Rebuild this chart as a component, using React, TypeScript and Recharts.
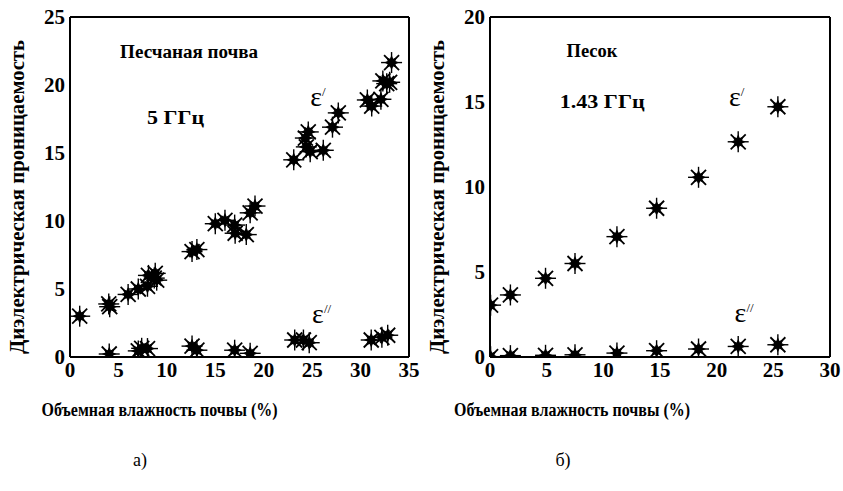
import React from 'react';
import { ScatterChart, Scatter, XAxis, YAxis, ReferenceDot } from 'recharts';

// а) песчаная почва, 5 ГГц
const soilMoisture1 = [1.0, 4.0, 4.1, 6.0, 7.05, 8.0, 8.1, 8.8, 8.95, 8.7, 12.6, 13.1, 15.0, 16.0, 17.0, 17.05, 18.2, 18.6, 19.1, 23.1, 24.3, 24.6, 24.4, 24.8, 26.15, 27.1, 27.7, 30.7, 31.15, 32.1, 32.3, 33.0, 32.7, 33.2];
const soilEps1 = [3.0, 3.9, 3.7, 4.6, 5.0, 5.2, 6.0, 6.15, 5.65, 5.8, 7.75, 7.9, 9.8, 10.05, 9.7, 9.1, 9.0, 10.6, 11.1, 14.5, 16.1, 16.55, 15.45, 15.1, 15.2, 16.9, 17.95, 18.9, 18.45, 18.95, 20.3, 20.2, 20.1, 21.65];
const soilMoisture2 = [4.05, 7.05, 7.4, 8.0, 12.6, 13.1, 17.0, 18.6, 23.2, 24.1, 24.7, 31.1, 32.2, 32.8];
const soilEps2 = [0.22, 0.45, 0.64, 0.62, 0.8, 0.5, 0.5, 0.27, 1.25, 1.25, 1.05, 1.25, 1.45, 1.6];

// б) песок, 1.43 ГГц
const sandMoisture = [0.05, 1.8, 4.9, 7.5, 11.2, 14.7, 18.4, 21.9, 25.4];
const sandEps1 = [3.05, 3.65, 4.63, 5.5, 7.08, 8.75, 10.57, 12.66, 14.72];
const sandEps2 = [0.02, 0.08, 0.1, 0.13, 0.23, 0.37, 0.47, 0.62, 0.72];

const soilXTicks = [0, 5, 10, 15, 20, 25, 30, 35];
const soilYTicks = [0, 5, 10, 15, 20, 25];
const sandXTicks = [0, 5, 10, 15, 20, 25, 30];
const sandYTicks = [0, 5, 10, 15, 20];
const soilXMinor = Array.from({ length: 36 }, (_, i) => i);
const soilYMinor = Array.from({ length: 26 }, (_, i) => i);
const sandXMinor = Array.from({ length: 31 }, (_, i) => i);
const sandYMinor = Array.from({ length: 21 }, (_, i) => i);

const xTitle = 'Объемная влажность почвы (%)';
const yTitle = 'Диэлектрическая проницаемость';
const soilNotes = ['Песчаная почва', '5 ГГц'];
const sandNotes = ['Песок', '1.43 ГГц'];
const captions = ['а)', 'б)'];

const zip = (xs: number[], ys: number[]) => xs.map((x, i) => ({ x, y: ys[i] }));

const FONT = "'Liberation Serif', 'DejaVu Serif', serif";
const serif = { fontFamily: FONT };
const serifBold = { fontFamily: FONT, fontWeight: 700 };

const Star = (props: any) => {
  const { cx, cy } = props;
  if (cx == null || cy == null) return null;
  const pts: string[] = [];
  for (let k = 0; k < 16; k++) {
    const a = (k * Math.PI) / 8;
    const r = k % 2 === 0 ? 7.5 : 4.2;
    pts.push(`${cx + r * Math.cos(a)},${cy + r * Math.sin(a)}`);
  }
  return (
    <g>
      <line x1={cx - 10.5} y1={cy} x2={cx + 10.5} y2={cy} stroke="#000" strokeWidth={1.4} />
      <line x1={cx} y1={cy - 10.5} x2={cx} y2={cy + 10.5} stroke="#000" strokeWidth={1.4} />
      <line x1={cx - 7.5} y1={cy - 7.5} x2={cx + 7.5} y2={cy + 7.5} stroke="#000" strokeWidth={1.8} />
      <line x1={cx - 7.5} y1={cy + 7.5} x2={cx + 7.5} y2={cy - 7.5} stroke="#000" strokeWidth={1.8} />
      <polygon points={pts.join(' ')} fill="#000" />
    </g>
  );
};

const centerOf = (p: any) => {
  const vb = p.viewBox || {};
  return { cx: (vb.x ?? 0) + (vb.width ?? 0) / 2, cy: (vb.y ?? 0) + (vb.height ?? 0) / 2 };
};

const noteLabel = (text: string, len: number) => (p: any) => {
  const { cx, cy } = centerOf(p);
  return (
    <text x={cx} y={cy + 6} textAnchor="middle" style={{ ...serifBold, fontSize: 18 }}
      fill="#000" textLength={len} lengthAdjust="spacingAndGlyphs">{text}</text>
  );
};

const epsLabel = (primes: string) => (p: any) => {
  const { cx, cy } = centerOf(p);
  return (
    <g>
      <text x={cx} y={cy + 7} textAnchor="middle" style={{ ...serif, fontSize: 28 }} fill="#000">ε</text>
      <text x={cx + 6} y={cy - 3} style={{ ...serif, fontSize: 13 }} fill="#000">{primes}</text>
    </g>
  );
};

const xTitleLabel = (shift: number) => (p: any) => {
  const vb = p.viewBox || { x: 70, y: 357, width: 340, height: 73 };
  return (
    <text x={vb.x + vb.width / 2 + shift} y={vb.y + 59} textAnchor="middle" style={{ ...serifBold, fontSize: 18 }}
      fill="#000" textLength={236} lengthAdjust="spacingAndGlyphs">{xTitle}</text>
  );
};

const yTitleLabel = (p: any) => {
  const vb = p.viewBox || { x: 0, y: 17, width: 70, height: 340 };
  const x = vb.x + 24;
  const y = vb.y + vb.height / 2 + 10;
  return (
    <text x={x} y={y} transform={`rotate(-90, ${x}, ${y})`} textAnchor="middle" style={{ ...serifBold, fontSize: 20 }}
      fill="#000" textLength={314} lengthAdjust="spacingAndGlyphs">{yTitle}</text>
  );
};

const XTick = (p: any) => (
  <text x={p.x} y={p.y} dy="0.71em" textAnchor="middle" fill="#000" style={{ ...serifBold, fontSize: 21 }}>
    {p.payload?.value}
  </text>
);

const YTick = (p: any) => (
  <text x={p.x} y={p.y} dy="0.35em" textAnchor="end" fill="#000" style={{ ...serifBold, fontSize: 21 }}>
    {p.payload?.value}
  </text>
);

const axisLine = { stroke: '#000', strokeWidth: 2 };
const tickLine = { stroke: '#000', strokeWidth: 1.3 };

// inward tick marks and closing frame, drawn with mirrored axes
function frameAxes(xd: number[], xMaj: number[], xMin: number[], yd: number[], yMaj: number[], yMin: number[]) {
  const c = { type: 'number' as const, allowDataOverflow: true, tick: false, interval: 0 as const };
  return [
    <XAxis key="bM" xAxisId="bM" orientation="bottom" mirror height={0.01} domain={xd} ticks={xMaj} tickSize={7} axisLine={false} tickLine={tickLine} {...c} />,
    <XAxis key="bm" xAxisId="bm" orientation="bottom" mirror height={0.01} domain={xd} ticks={xMin} tickSize={4} axisLine={false} tickLine={tickLine} {...c} />,
    <XAxis key="tM" xAxisId="tM" orientation="top" mirror height={0.01} domain={xd} ticks={xMaj} tickSize={7} axisLine={axisLine} tickLine={tickLine} {...c} />,
    <XAxis key="tm" xAxisId="tm" orientation="top" mirror height={0.01} domain={xd} ticks={xMin} tickSize={4} axisLine={false} tickLine={tickLine} {...c} />,
    <YAxis key="lM" yAxisId="lM" orientation="left" mirror width={0.01} domain={yd} ticks={yMaj} tickSize={7} axisLine={false} tickLine={tickLine} {...c} />,
    <YAxis key="lm" yAxisId="lm" orientation="left" mirror width={0.01} domain={yd} ticks={yMin} tickSize={4} axisLine={false} tickLine={tickLine} {...c} />,
    <YAxis key="rM" yAxisId="rM" orientation="right" mirror width={0.01} domain={yd} ticks={yMaj} tickSize={7} axisLine={axisLine} tickLine={tickLine} {...c} />,
    <YAxis key="rm" yAxisId="rm" orientation="right" mirror width={0.01} domain={yd} ticks={yMin} tickSize={4} axisLine={false} tickLine={tickLine} {...c} />,
  ];
}

type PanelProps = {
  left: number; width: number; marginRight: number;
  xd: number[]; xMaj: number[]; xMin: number[];
  yd: number[]; yMaj: number[]; yMin: number[];
  eps1: { x: number; y: number }[]; eps2: { x: number; y: number }[];
  notes: string[]; notePos: { x: number; y: number; len: number }[];
  eps1Pos: { x: number; y: number }; eps2Pos: { x: number; y: number };
  titleShift: number;
};

const Panel = (p: PanelProps) => (
  <div style={{ position: 'absolute', left: p.left, top: 0 }}>
    <ScatterChart width={p.width} height={430} margin={{ top: 17, right: p.marginRight, bottom: 0, left: 0 }} style={serif}>
      <XAxis xAxisId="x" dataKey="x" type="number" domain={p.xd} ticks={p.xMaj} interval={0} allowDataOverflow
        height={73} tickSize={0} tickMargin={5} tickLine={false} axisLine={axisLine} tick={XTick}
        label={xTitleLabel(p.titleShift)} />
      <YAxis yAxisId="y" dataKey="y" type="number" domain={p.yd} ticks={p.yMaj} interval={0} allowDataOverflow
        width={70} tickSize={0} tickMargin={5} tickLine={false} axisLine={axisLine} tick={YTick}
        label={yTitleLabel} />
      {frameAxes(p.xd, p.xMaj, p.xMin, p.yd, p.yMaj, p.yMin)}
      <Scatter xAxisId="x" yAxisId="y" data={p.eps1} fill="#000" shape={Star} isAnimationActive={false} />
      <Scatter xAxisId="x" yAxisId="y" data={p.eps2} fill="#000" shape={Star} isAnimationActive={false} />
      {p.notes.map((t, i) => (
        <ReferenceDot key={t} xAxisId="x" yAxisId="y" x={p.notePos[i].x} y={p.notePos[i].y} r={1}
          fill="none" stroke="none" label={noteLabel(t, p.notePos[i].len)} />
      ))}
      <ReferenceDot xAxisId="x" yAxisId="y" x={p.eps1Pos.x} y={p.eps1Pos.y} r={1} fill="none" stroke="none" label={epsLabel('/')} />
      <ReferenceDot xAxisId="x" yAxisId="y" x={p.eps2Pos.x} y={p.eps2Pos.y} r={1} fill="none" stroke="none" label={epsLabel('//')} />
    </ScatterChart>
  </div>
);

export default function App() {
  return (
    <div style={{ position: 'absolute', left: 0, top: 0, width: 843, height: 491, background: '#fff', fontFamily: FONT }}>
      <Panel left={0} width={420} marginRight={11}
        xd={[0, 35]} xMaj={soilXTicks} xMin={soilXMinor} yd={[0, 25]} yMaj={soilYTicks} yMin={soilYMinor}
        eps1={zip(soilMoisture1, soilEps1)} eps2={zip(soilMoisture2, soilEps2)}
        notes={soilNotes} notePos={[{ x: 12.3, y: 22.4, len: 138 }, { x: 10.9, y: 17.6, len: 57 }]}
        eps1Pos={{ x: 25.4, y: 19.0 }} eps2Pos={{ x: 25.6, y: 3.0 }} titleShift={-80} />
      <Panel left={420} width={423} marginRight={13}
        xd={[0, 30]} xMaj={sandXTicks} xMin={sandXMinor} yd={[0, 20]} yMaj={sandYTicks} yMin={sandYMinor}
        eps1={zip(sandMoisture, sandEps1)} eps2={zip(sandMoisture, sandEps2)}
        notes={sandNotes} notePos={[{ x: 9.0, y: 18.0, len: 51 }, { x: 9.9, y: 15.0, len: 85 }]}
        eps1Pos={{ x: 21.6, y: 15.2 }} eps2Pos={{ x: 22.1, y: 2.5 }} titleShift={-88} />
      <div style={{ position: 'absolute', left: 120, width: 40, top: 450, textAlign: 'center', fontSize: 18, color: '#000' }}>{captions[0]}</div>
      <div style={{ position: 'absolute', left: 543, width: 40, top: 450, textAlign: 'center', fontSize: 18, color: '#000' }}>{captions[1]}</div>
    </div>
  );
}
